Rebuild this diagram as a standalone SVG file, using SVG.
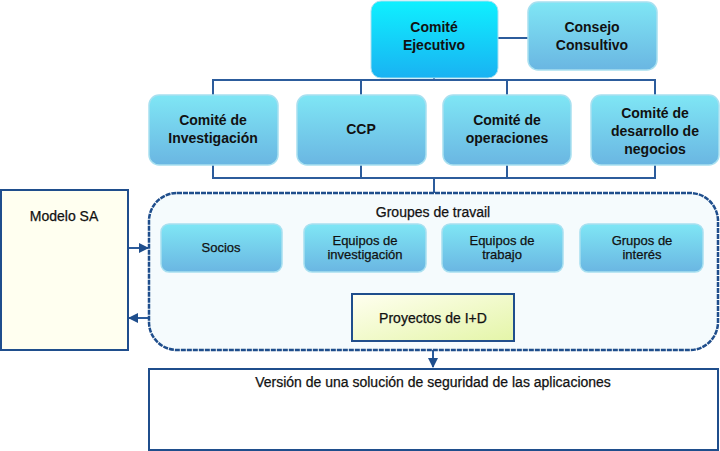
<svg xmlns="http://www.w3.org/2000/svg" width="720" height="451" viewBox="0 0 720 451">
<defs>
<linearGradient id="gb" x1="0" y1="0" x2="0" y2="1"><stop offset="0" stop-color="#7fe6f5"/><stop offset="1" stop-color="#6ab6e2"/></linearGradient>
<linearGradient id="gt" x1="0" y1="0" x2="0" y2="1"><stop offset="0" stop-color="#0ff0ff"/><stop offset="1" stop-color="#19b2f2"/></linearGradient>
<linearGradient id="gy" x1="0" y1="0" x2="1" y2="1"><stop offset="0" stop-color="#fffff0"/><stop offset="1" stop-color="#e4f5a8"/></linearGradient>
<marker id="ah" viewBox="0 0 10 10" refX="9" refY="5" markerWidth="5" markerHeight="5" orient="auto"><path d="M0,0L10,5L0,10z" fill="#1f4e8c"/></marker>
</defs>
<style>
.b{fill:url(#gb);stroke:#a8e0f0;stroke-width:1.5}
.t{font-family:"Liberation Sans",Arial,sans-serif;font-size:14px;font-weight:bold;fill:#111;text-anchor:middle}
.s{font-family:"Liberation Sans",Arial,sans-serif;font-size:13px;fill:#111;text-anchor:middle;stroke:#111;stroke-width:0.25}
.m{font-size:14px}
.c{fill:none;stroke:#2c5c9c;stroke-width:2}
</style>
<g id="connectors">
<path class="c" d="M498,38H528M434,78V80M213,95V80H655V95M361,80V95M507,80V95M213,165V178H655V165M361,165V178M507,165V178M434,178V193"/>
<path class="c" d="M221,272V287H642V272M365,272V287M502,272V287M433,287V294"/>
<path class="c" d="M433,341V367" marker-end="url(#ah)"/>
<path class="c" d="M129,248H148" marker-end="url(#ah)"/>
<path class="c" d="M148,318H129" marker-end="url(#ah)"/>
</g>
<g id="grupo"><rect x="149" y="193" width="569" height="157" rx="28" fill="#f5fbfd" stroke="#1f4e8c" stroke-width="2.5" stroke-dasharray="5,1"/><text class="s m" x="433" y="217">Groupes de travail</text></g>
<g id="ejecutivo"><rect x="371" y="1" width="127" height="77" rx="10" fill="url(#gt)" stroke="#a8e0f0"/><text class="t" x="434" y="32">Comité</text><text class="t" x="434" y="50">Ejecutivo</text></g>
<g id="consejo"><rect x="528" y="2" width="129" height="68" rx="10" class="b"/><text class="t" x="592" y="32">Consejo</text><text class="t" x="592" y="50">Consultivo</text></g>
<g id="investigacion"><rect x="149" y="95" width="129" height="70" rx="10" class="b"/><text class="t" x="213" y="125">Comité de</text><text class="t" x="213" y="143">Investigación</text></g>
<g id="ccp"><rect x="297" y="95" width="129" height="70" rx="10" class="b"/><text class="t" x="361" y="134">CCP</text></g>
<g id="operaciones"><rect x="443" y="95" width="128" height="70" rx="10" class="b"/><text class="t" x="507" y="125">Comité de</text><text class="t" x="507" y="143">operaciones</text></g>
<g id="negocios"><rect x="591" y="95" width="128" height="70" rx="10" class="b"/><text class="t" x="655" y="118">Comité de</text><text class="t" x="655" y="136">desarrollo de</text><text class="t" x="655" y="154">negocios</text></g>
<g id="socios"><rect x="161" y="224" width="121" height="48" rx="8" class="b"/><text class="s" x="221" y="252">Socios</text></g>
<g id="equiposinv"><rect x="304" y="224" width="122" height="48" rx="8" class="b"/><text class="s" x="365" y="245">Equipos de</text><text class="s" x="365" y="259">investigación</text></g>
<g id="equipostrab"><rect x="442" y="224" width="121" height="48" rx="8" class="b"/><text class="s" x="502" y="245">Equipos de</text><text class="s" x="502" y="259">trabajo</text></g>
<g id="gruposint"><rect x="580" y="224" width="123" height="48" rx="8" class="b"/><text class="s" x="642" y="245">Grupos de</text><text class="s" x="642" y="259">interés</text></g>
<g id="proyectos"><rect x="352" y="294" width="162" height="47" fill="url(#gy)" stroke="#1f4e8c" stroke-width="2"/><text class="s m" x="433" y="323">Proyectos de I+D</text></g>
<g id="modelo"><rect x="1" y="190" width="127" height="160" fill="#fffff0" stroke="#1f4e8c" stroke-width="2"/><text class="s m" x="64" y="221">Modelo SA</text></g>
<g id="version"><rect x="149" y="369" width="569" height="81" fill="#fff" stroke="#1f4e8c" stroke-width="2"/><text class="s m" x="433" y="387">Versión de una solución de seguridad de las aplicaciones</text></g>
</svg>
